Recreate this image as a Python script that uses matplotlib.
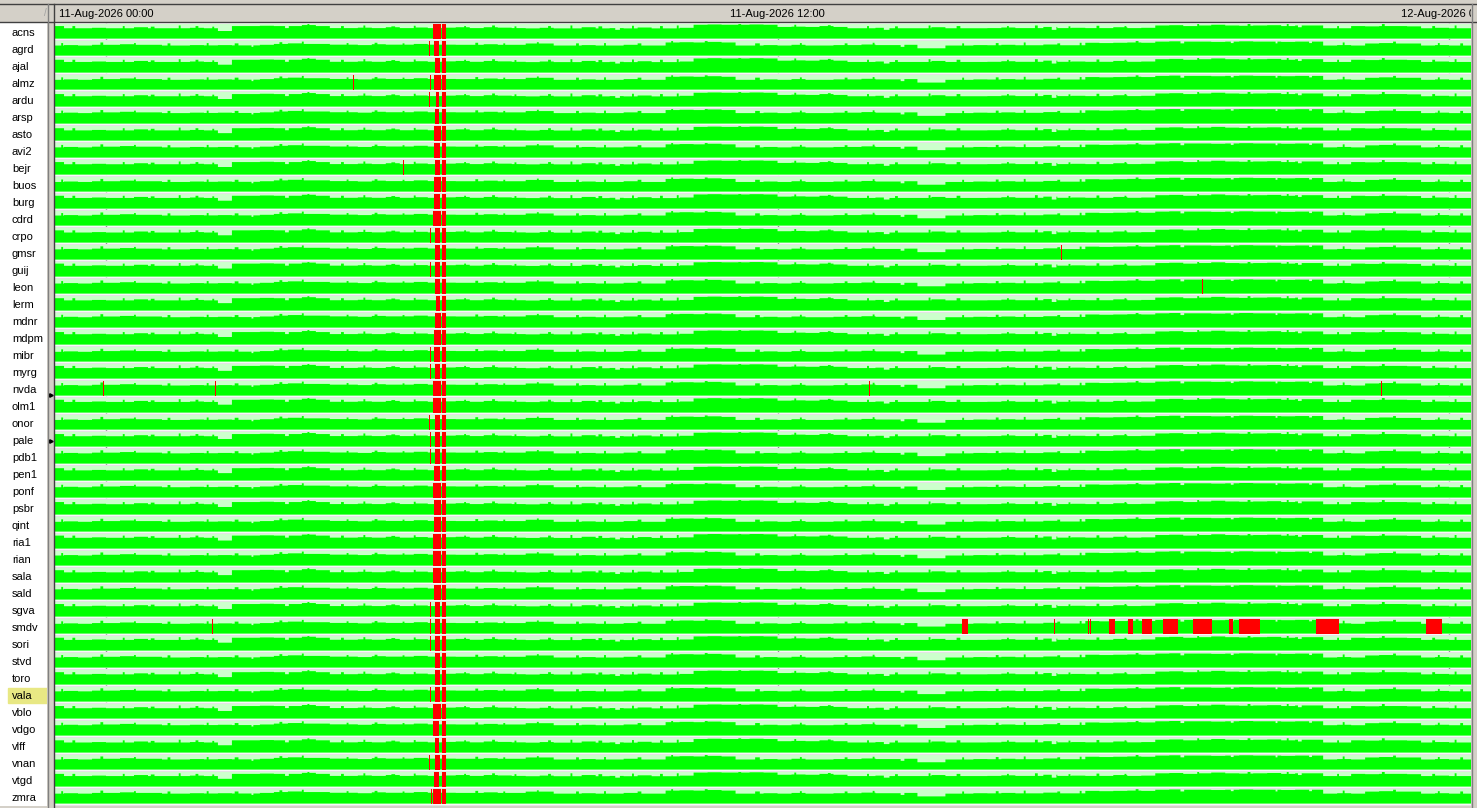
import matplotlib
matplotlib.use("Agg")
import matplotlib.pyplot as plt
from matplotlib.patches import Rectangle
from matplotlib.lines import Line2D

stations = ["acns", "agrd", "ajal", "almz", "ardu", "arsp", "asto", "avi2", "bejr", "buos",
            "burg", "cdrd", "crpo", "gmsr", "guij", "leon", "lerm", "mdnr", "mdpm", "mibr",
            "myrg", "nvda", "olm1", "onor", "pale", "pdb1", "pen1", "ponf", "psbr", "qint",
            "ria1", "rian", "sala", "sald", "sgva", "smdv", "sori", "stvd", "toro", "vala",
            "vblo", "vdgo", "vlff", "vnan", "vtgd", "zmra"]

# data fill per 15 min bin (fraction of band), first bin starts 23:00 on 10-Aug
bin_start_h = -1.0
bin_h = 0.25
profile_a = [0.86, 0.71, 0.71, 0.74,
             0.71, 0.71, 0.78, 0.71, 0.71, 0.71, 0.74, 0.71,
             0.52,
             0.86, 0.86, 0.88, 0.86, 0.86, 0.93, 0.86,
             0.72, 0.72, 0.75, 0.72, 0.78, 0.72, 0.76, 0.72,
             0.75, 0.78, 0.72, 0.78, 0.75, 0.72,
             0.70, 0.74, 0.70, 0.70, 0.78, 0.70, 0.72, 0.70, 0.76, 0.70, 0.70, 0.74,
             0.95, 0.97, 0.95, 0.95, 0.97, 0.95,
             0.80, 0.82, 0.80, 0.86, 0.80,
             0.71, 0.71, 0.74, 0.71, 0.71, 0.71, 0.78, 0.71, 0.71, 0.71,
             0.72, 0.76, 0.72, 0.72, 0.80, 0.72, 0.74, 0.72, 0.72, 0.78, 0.72, 0.74,
             0.90, 0.92, 0.86, 0.90, 0.95, 0.90, 0.88, 0.90, 0.92, 0.86, 0.90, 0.90,
             0.71, 0.71,
             0.86, 0.84, 0.86, 0.86, 0.84,
             0.71, 0.74, 0.71, 0.71]
profile_b = [0.69, 0.72, 0.69,
             0.74, 0.74, 0.78, 0.74, 0.74,
             0.69, 0.69, 0.72,
             0.70, 0.72, 0.70, 0.70, 0.74,
             0.80, 0.84, 0.80, 0.80,
             0.75, 0.75, 0.72, 0.78, 0.75, 0.75, 0.80,
             0.75, 0.75,
             0.74, 0.74, 0.78, 0.74, 0.74,
             0.83, 0.83,
             0.69, 0.69, 0.72, 0.69, 0.69, 0.74, 0.69, 0.69,
             0.90, 0.92, 0.90, 0.94, 0.90,
             0.69, 0.69, 0.72, 0.69, 0.74, 0.69, 0.69, 0.72,
             0.72, 0.76, 0.72, 0.72, 0.74,
             0.50, 0.50,
             0.69, 0.69, 0.72,
             0.71, 0.74, 0.71, 0.71, 0.76, 0.71, 0.71,
             0.88, 0.86, 0.88, 0.90, 0.88,
             0.96, 0.98, 0.96, 0.96, 0.94, 0.96, 0.98, 0.96, 0.96, 0.94, 0.96, 0.96,
             0.69, 0.72, 0.69,
             0.83, 0.86, 0.83, 0.83,
             0.69, 0.72, 0.69, 0.69]
# short spikes / dips on top of the 15 min bins: (start hour, minutes, fraction)
spikes_a = [(-0.6, 3, 0.86), (0.3, 2, 0.86), (0.8, 4, 0.82), (1.3, 2, 0.90), (1.6, 3, 0.86),
            (1.9, 2, 0.82), (3.2, 4, 0.72), (3.6, 2, 1.00), (4.2, 3, 0.86), (4.6, 2, 0.90),
            (5.1, 4, 0.84), (5.5, 2, 0.88), (6.4, 2, 0.86), (6.9, 3, 0.90), (7.3, 2, 0.84),
            (7.9, 3, 0.86), (8.3, 2, 0.90), (8.8, 4, 0.84), (9.1, 5, 0.60), (9.4, 2, 0.88),
            (9.9, 3, 0.86), (10.2, 2, 0.90), (11.3, 3, 1.00), (12.3, 2, 0.95), (12.9, 3, 0.92),
            (13.6, 2, 0.86), (13.9, 6, 0.60), (14.1, 3, 0.84), (14.7, 2, 0.90), (15.2, 4, 0.86),
            (16.1, 2, 0.86), (16.6, 3, 0.90), (16.9, 5, 0.60), (17.2, 2, 0.84), (17.7, 3, 0.88),
            (18.2, 2, 0.86), (19.5, 2, 1.00), (20.4, 3, 1.00), (21.1, 2, 1.00), (21.3, 4, 0.78),
            (22.0, 2, 0.86), (22.8, 3, 1.00), (23.7, 3, 0.86), (24.1, 2, 0.90)]
spikes_b = [(-0.8, 2, 0.86), (-0.1, 3, 0.90), (0.5, 2, 0.86), (1.1, 3, 0.84), (1.8, 2, 0.86),
            (2.3, 4, 0.84), (2.6, 2, 0.60), (3.1, 3, 0.92), (3.5, 2, 0.96), (4.3, 2, 0.86),
            (4.8, 3, 0.88), (5.3, 2, 0.84), (6.6, 3, 0.88), (7.1, 2, 0.84), (7.7, 2, 0.92),
            (8.4, 3, 0.84), (8.9, 2, 0.86), (9.5, 4, 0.84), (10.1, 2, 1.00), (10.7, 3, 1.00),
            (11.6, 5, 0.84), (12.4, 2, 0.86), (13.2, 3, 0.84), (13.7, 2, 0.88), (14.2, 4, 0.60),
            (15.3, 2, 0.84), (15.9, 3, 0.86), (16.4, 2, 0.90), (17.0, 3, 0.84), (17.4, 2, 0.88),
            (18.4, 3, 1.00), (19.2, 4, 0.84), (20.1, 3, 0.86), (20.9, 2, 0.84), (21.5, 3, 0.86),
            (22.1, 2, 0.90), (23.0, 3, 0.96), (23.8, 2, 0.86), (24.2, 3, 0.84)]
row_profile = "ABABABABABABABABABABABABABABABABABABABABABABAB"
row_offset = [0.00, 0.00, 0.02, -0.02, 0.00, 0.03, -0.01, 0.01, 0.00, -0.03,
              0.02, 0.00, -0.02, 0.01, 0.03, 0.00, -0.01, 0.02, 0.00, -0.02,
              0.01, 0.00, 0.02, -0.03, 0.00, 0.01, -0.01, 0.02, 0.00, -0.02,
              0.03, 0.00, -0.01, 0.01, 0.00, -0.02, 0.02, 0.00, -0.01, 0.01,
              0.00, 0.02, -0.02, 0.00, 0.01, -0.01]

# outages in minutes from 11-Aug 00:00
first_block = {
    "acns": (350.6, 359.2), "agrd": (351.7, 357.0), "ajal": (352.7, 358.1), "almz": (351.7, 359.2),
    "ardu": (353.8, 357.0), "arsp": (352.7, 357.0), "asto": (351.7, 359.2), "avi2": (351.7, 358.1),
    "bejr": (352.7, 358.1), "buos": (351.7, 359.2), "burg": (351.7, 358.1), "cdrd": (350.6, 359.2),
    "crpo": (352.7, 358.1), "gmsr": (352.7, 358.1), "guij": (352.7, 358.1), "leon": (352.7, 358.1),
    "lerm": (353.8, 358.1), "mdnr": (352.7, 359.2), "mdpm": (351.7, 359.2), "mibr": (351.7, 358.1),
    "myrg": (352.7, 358.1), "nvda": (350.6, 359.2), "olm1": (350.6, 359.2), "onor": (352.7, 358.1),
    "pale": (352.7, 358.1), "pdb1": (352.7, 358.1), "pen1": (351.7, 358.1), "ponf": (350.6, 359.2),
    "psbr": (351.7, 359.2), "qint": (351.7, 359.2), "ria1": (350.6, 359.2), "rian": (350.6, 359.2),
    "sala": (350.6, 359.2), "sald": (351.7, 359.2), "sgva": (352.7, 358.1), "smdv": (352.7, 358.1),
    "sori": (352.7, 358.1), "stvd": (352.7, 358.1), "toro": (352.7, 358.1), "vala": (352.7, 358.1),
    "vblo": (350.6, 359.2), "vdgo": (350.6, 357.0), "vlff": (352.7, 357.0), "vnan": (352.7, 358.1),
    "vtgd": (351.7, 357.0), "zmra": (350.6, 359.2)}
second_block = (360.3, 364.6)
pre_line = {"agrd": 346.3, "almz": 347.4, "ardu": 346.3, "crpo": 347.4, "guij": 347.4,
            "mibr": 347.4, "myrg": 347.4, "onor": 346.3, "pale": 347.4, "pdb1": 347.4,
            "sgva": 347.4, "smdv": 347.4, "sori": 347.4, "vala": 347.4, "vnan": 346.3,
            "zmra": 348.5}
extra_outages = {
    "almz": [(264.8, 265.9)],
    "bejr": [(318.4, 319.5)],
    "gmsr": [(1024.2, 1025.3)],
    "leon": [(1175.4, 1176.5)],
    "nvda": [(-3.2, -2.1), (116.9, 118.0), (818.4, 819.5), (1367.0, 1368.1)],
    "smdv": [(113.7, 114.8), (917.8, 924.2), (1016.4, 1017.5), (1052.9, 1054.0),
             (1055.0, 1056.1), (1075.4, 1081.8), (1095.8, 1101.1), (1110.8, 1121.5),
             (1133.3, 1149.4), (1165.5, 1185.9), (1204.1, 1208.4), (1214.9, 1237.3),
             (1297.4, 1322.0), (1415.3, 1432.5)]}

highlight = "vala"
marked = ["nvda", "pale"]
tick_hours = [0, 12, 24]
tick_labels = ["11-Aug-2026 00:00", "11-Aug-2026 12:00", "12-Aug-2026 00:00"]

W, H = 1477, 808
GRAY = "#d4d0c8"
LIGHT = "#ccffcc"
GREEN = "#00ff00"
RED = "#ff0000"
BAND = 0.853
x0, x1 = -0.9114, 24.392


def rect(l, t, r, b):
    return [l / W, 1 - b / H, (r - l) / W, (b - t) / H]


def minute_levels(prof, spikes, offset):
    # expand the 15 min bins to 1 min steps and lay the spikes on top
    lv = []
    for v in prof:
        lv += [min(1.0, v + offset)] * 15
    for h, m, f in spikes:
        k = int(round((h - bin_start_h) * 60))
        for j in range(k, min(k + m, len(lv))):
            lv[j] = min(1.0, f + offset)
    return lv


plt.rcParams["font.family"] = ["Liberation Sans", "DejaVu Sans"]
fig = plt.figure(figsize=(W / 100, H / 100), dpi=100)
fig.patch.set_facecolor(GRAY)

# station list panel
axl = fig.add_axes(rect(0, 22, 47, 806))
axl.set_facecolor("white")
axl.set_xlim(0, 47)
axl.set_ylim(len(stations), -0.12)
axl.axis("off")
axl.add_patch(Rectangle((0, -0.12), 47, len(stations) + 0.12, color="white", zorder=0))
for i, s in enumerate(stations):
    if s == highlight:
        axl.add_patch(Rectangle((8, i + 0.05), 40, 0.92, color="#e8e884", zorder=1))
    axl.text(12, i + 0.52, s, fontsize=8, va="center", ha="left", zorder=2)

# main timeline
ax = fig.add_axes(rect(55, 22, 1471, 806))
ax.set_facecolor("white")
ax.set_xlim(x0, x1)
ax.set_ylim(len(stations), -0.12)
ax.set_xticks([])
ax.set_yticks([])
for sp in ax.spines.values():
    sp.set_visible(False)

for h in tick_hours:
    ax.axvline(h, color="#808080", lw=1, ls=(0, (1, 2)), zorder=0)

n_min = len(profile_a) * 15
edges = [bin_start_h + k / 60 for k in range(n_min + 1)]
for i, s in enumerate(stations):
    base = i + BAND
    ax.axhline(i + 0.95, color="#e4e4e4", lw=1, zorder=0.5)
    ax.barh(i, x1 - x0 + 2, left=x0 - 1, height=BAND, align="edge", color=LIGHT, lw=0, zorder=1)
    if row_profile[i] == "A":
        lv = minute_levels(profile_a, spikes_a, row_offset[i])
    else:
        lv = minute_levels(profile_b, spikes_b, row_offset[i])
    tops = [base - v * BAND for v in lv]
    ax.stairs(tops, edges, baseline=base, fill=True, color=GREEN, lw=0, zorder=2)
    spans = [first_block[s], second_block]
    if s in pre_line:
        spans.append((pre_line[s], pre_line[s] + 1.1))
    spans += extra_outages.get(s, [])
    ax.broken_barh([(a / 60, (b - a) / 60) for a, b in spans], (i, BAND),
                   facecolors=RED, lw=0, zorder=3, antialiased=False)

# time header
axh = fig.add_axes(rect(55, 4, 1471, 22))
axh.set_facecolor(GRAY)
axh.set_xlim(x0, x1)
axh.set_ylim(0, 1)
axh.set_xticks([])
axh.set_yticks([])
for sp in axh.spines.values():
    sp.set_visible(False)
for h, lab in zip(tick_hours, tick_labels):
    axh.text(h, 0.45, lab, ha="center", va="center", fontsize=8, clip_on=True)


# window chrome
def fline(xs, ys, c, lw=1):
    fig.add_artist(Line2D([x / W for x in xs], [1 - y / H for y in ys], color=c, lw=lw))


fig.text(45 / W, 1 - 13 / H, "/", fontsize=7, color="#a0a0a0", ha="center", va="center")
fline([0, W], [3.5, 3.5], "#404040")
fline([0, W], [21.5, 21.5], "#404040")
fline([48, 48], [4, H], "#808080")
fline([53.5, 53.5], [4, H], "#404040")
fline([1472, 1472], [4, H], "#808080")
for s, y in zip(marked, [395, 441]):
    fig.add_artist(Line2D([50.5 / W], [1 - y / H], marker=">", ms=2.5, color="black", lw=0))

fig.savefig("out.png", dpi=100, facecolor=fig.get_facecolor())
